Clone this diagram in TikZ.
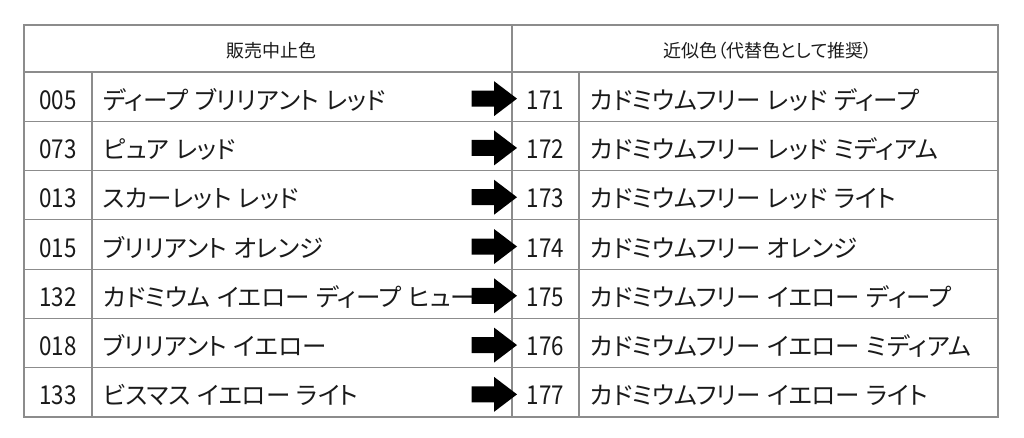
\documentclass[tikz,border=0pt]{standalone}
\usepackage{fontspec}
\setmainfont{Noto Sans CJK JP}
\newfontfamily\propjp[RawFeature=+palt]{Noto Sans CJK JP}
\definecolor{rulecol}{HTML}{8C8C8C}
\definecolor{inkcol}{HTML}{1A1A1A}
\tikzset{
  gridline/.style={draw=rulecol, line width=1.2pt},
  hdrtext/.style={inner sep=0pt, text=inkcol, font=\propjp\fontsize{18}{18}\selectfont, anchor=base},
  numtext/.style={inner sep=0pt, text=inkcol, anchor=base},
  nametext/.style={inner sep=0pt, text=inkcol, anchor=base west, font=\propjp\fontsize{24.5}{25}\selectfont},
  arrfill/.style={fill=black, draw=none}
}
\newcommand{\numtxt}[1]{\scalebox{0.86}[1]{\fontsize{26}{26}\selectfont #1}}
\newcommand{\nmtxt}[1]{\spaceskip=6.5pt\relax #1}
\begin{document}
\begin{tikzpicture}[x=1pt,y=-1pt]
\useasboundingbox[fill=white] (0,0) rectangle (1024,437);
% grid
\draw[gridline] (24,25) rectangle (998,417);
\draw[gridline] (24,72) -- (998,72);
\foreach \i in {1,...,6}{
  \draw[gridline] (24,{72+49.2857*\i}) -- (998,{72+49.2857*\i});
}
\draw[gridline] (92,72) -- (92,417);
\draw[gridline] (512,25) -- (512,417);
\draw[gridline] (579,72) -- (579,417);
% headers
\node[hdrtext] (h1) at (271,57) {販売中止色};
\node[hdrtext] (h2) at (768,57) {近似色（代替色として推奨）};
% rows
\foreach \nl/\tl/\nr/\tr [count=\i from 0] in {
  005/ディープ ブリリアント レッド/171/カドミウムフリー レッド ディープ,
  073/ピュア レッド/172/カドミウムフリー レッド ミディアム,
  013/スカーレット レッド/173/カドミウムフリー レッド ライト,
  015/ブリリアント オレンジ/174/カドミウムフリー オレンジ,
  132/カドミウム イエロー ディープ ヒュー/175/カドミウムフリー イエロー ディープ,
  018/ブリリアント イエロー/176/カドミウムフリー イエロー ミディアム,
  133/ビスマス イエロー ライト/177/カドミウムフリー イエロー ライト}{
  \pgfmathsetmacro{\yc}{72+49.2857*\i+24.64}
  \pgfmathsetmacro{\yb}{\yc+12.6}
  \node[numtext] (n\i) at (58,\yb) {\numtxt{\nl}};
  \node[nametext] (a\i) at (103,\yb) {\nmtxt{\tl}};
  \node[numtext] (m\i) at (545.5,\yb) {\numtxt{\nr}};
  \node[nametext] (b\i) at (590,\yb) {\nmtxt{\tr}};
  \fill[arrfill] (471.5,\yc-6) -- (494,\yc-6) -- (494,\yc-15.5) -- (517,\yc+2)
     -- (494,\yc+19.5) -- (494,\yc+10) -- (471.5,\yc+10) -- cycle;
}
\end{tikzpicture}
\end{document}
